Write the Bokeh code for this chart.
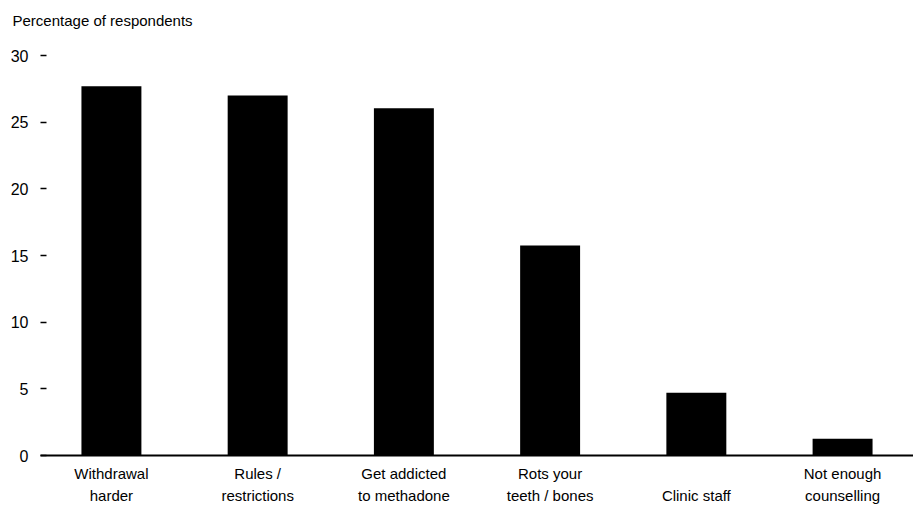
from bokeh.plotting import figure
from bokeh.models import FactorRange, Range1d, ColumnDataSource, FixedTicker
from bokeh.embed import file_html
from bokeh.resources import INLINE

categories = ["Withdrawal\nharder", "Rules /\nrestrictions", "Get addicted\nto methadone",
              "Rots your\nteeth / bones", "\nClinic staff", "Not enough\ncounselling"]
values = [27.7, 27.0, 26.05, 15.75, 4.7, 1.25]
y_ticks = [0, 5, 10, 15, 20, 25, 30]
y_title = "Percentage of respondents"

FONT = "Liberation Sans"

src = ColumnDataSource(dict(cat=categories, val=values))

p = figure(width=913, height=520, output_backend="svg", toolbar_location=None,
           x_range=FactorRange(*categories, range_padding=-0.005),
           y_range=Range1d(0, 30),
           min_border_left=40, min_border_right=0, min_border_top=55,
           min_border_bottom=65)

p.vbar(x="cat", top="val", width=0.41, source=src, fill_color="black", line_color=None)

p.title.text = y_title + "\n "
p.title.text_font = FONT
p.title.text_font_size = "15px"
p.title.text_font_style = "normal"
p.title.text_color = "black"
p.title.align = "left"
p.title.offset = -28
p.title.standoff = 12
p.title.text_line_height = 1.2

p.xgrid.visible = False
p.ygrid.visible = False
p.outline_line_color = None
p.background_fill_color = "white"
p.border_fill_color = "white"

p.yaxis.ticker = FixedTicker(ticks=y_ticks)
p.yaxis.axis_line_color = None
p.yaxis.major_tick_in = 6
p.yaxis.major_tick_out = 0
p.yaxis.major_tick_line_width = 1.5
p.yaxis.major_tick_line_color = "black"
p.yaxis.minor_tick_line_color = None
p.yaxis.major_label_standoff = 12
p.yaxis.major_label_text_font = FONT
p.yaxis.major_label_text_font_size = "16px"
p.yaxis.major_label_text_color = "black"

p.xaxis.axis_line_color = "black"
p.xaxis.axis_line_width = 2
p.xaxis.major_tick_line_color = None
p.xaxis.major_label_standoff = 3
p.xaxis.major_label_text_font = FONT
p.xaxis.major_label_text_font_size = "15px"
p.xaxis.major_label_text_color = "black"
p.xaxis.major_label_text_line_height = 1.3

open("out.html", "w").write(file_html(p, INLINE))
